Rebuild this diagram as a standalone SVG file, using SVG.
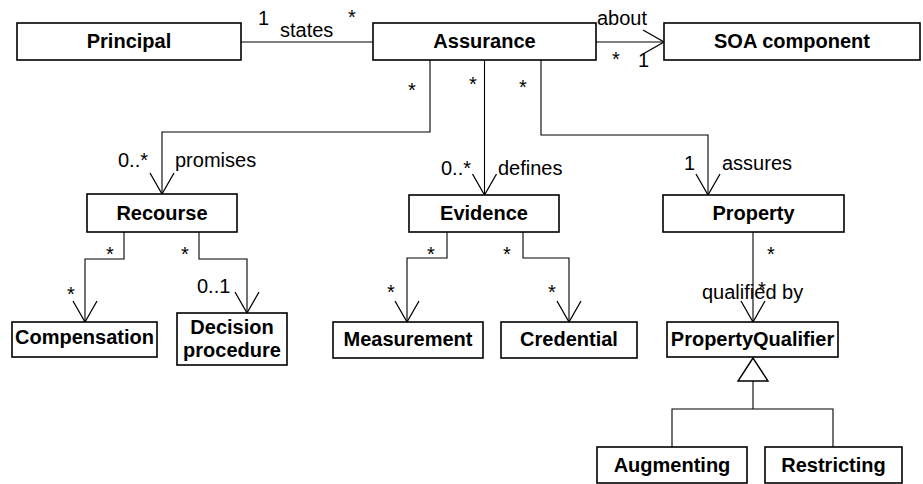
<svg xmlns="http://www.w3.org/2000/svg" width="923" height="484" viewBox="0 0 923 484">
<style>
.box{fill:#fff;stroke:#000;stroke-width:1.6}
.n{font-family:"Liberation Sans",Arial,sans-serif;font-size:20px;font-weight:bold;text-anchor:middle;fill:#000}
.l{font-family:"Liberation Sans",Arial,sans-serif;font-size:20px;fill:#000}
.c{fill:none;stroke:#000;stroke-width:1.1}
</style>
<defs>
<marker id="open" markerUnits="userSpaceOnUse" markerWidth="30" markerHeight="30" viewBox="-25 -15 30 30" refX="0" refY="0" orient="auto">
<path d="M-21,-12 L0,0 L-21,12" fill="none" stroke="#000" stroke-width="1.3"/>
</marker>
</defs>
<rect width="923" height="484" fill="#fff"/>
<g id="connectors">
<path class="c" d="M241,42 H373"/>
<path class="c" d="M596,42 H664" marker-end="url(#open)"/>
<path class="c" d="M430,60 V132 H162 V194" marker-end="url(#open)"/>
<path class="c" d="M484.5,60 V195" marker-end="url(#open)"/>
<path class="c" d="M541,60 V135 H708 V195" marker-end="url(#open)"/>
<path class="c" d="M124,232 V259 H85 V322" marker-end="url(#open)"/>
<path class="c" d="M199,232 V259 H247 V313" marker-end="url(#open)"/>
<path class="c" d="M447,232 V258 H407 V322" marker-end="url(#open)"/>
<path class="c" d="M523,232 V258 H569 V322" marker-end="url(#open)"/>
<path class="c" d="M753,232 V322" marker-end="url(#open)"/>
<path d="M753,358 L738,381 L768,381 Z" fill="#fff" stroke="#000" stroke-width="1.4"/>
<path class="c" d="M753,381 V409"/>
<path class="c" d="M672,447 V409 H833 V447"/>
<text class="l" x="258" y="25">1</text>
<text class="l" x="280" y="37">states</text>
<text class="l" x="348" y="24">*</text>
<text class="l" x="597" y="25">about</text>
<text class="l" x="612" y="66">*</text>
<text class="l" x="638" y="67">1</text>
<text class="l" x="408" y="97">*</text>
<text class="l" x="469" y="91">*</text>
<text class="l" x="519" y="94">*</text>
<text class="l" x="118" y="167">0..*</text>
<text class="l" x="175" y="167">promises</text>
<text class="l" x="441" y="175">0..*</text>
<text class="l" x="498" y="175">defines</text>
<text class="l" x="684" y="170">1</text>
<text class="l" x="722" y="170">assures</text>
<text class="l" x="106" y="261">*</text>
<text class="l" x="67" y="301">*</text>
<text class="l" x="181" y="261">*</text>
<text class="l" x="197" y="293">0..1</text>
<text class="l" x="427" y="261">*</text>
<text class="l" x="387" y="299">*</text>
<text class="l" x="503" y="261">*</text>
<text class="l" x="548" y="299">*</text>
<text class="l" x="767" y="261">*</text>
<text class="l" x="702" y="299">qualified by</text>
<text class="l" x="758" y="296">*</text>
</g>
<g id="principal"><rect class="box" x="17" y="23" width="224" height="37"/><text class="n" x="129" y="48">Principal</text></g>
<g id="assurance"><rect class="box" x="373" y="23" width="223" height="37"/><text class="n" x="484.5" y="48">Assurance</text></g>
<g id="soa"><rect class="box" x="664" y="23" width="256" height="37"/><text class="n" x="792" y="48">SOA component</text></g>
<g id="recourse"><rect class="box" x="87" y="194" width="150" height="38"/><text class="n" x="162" y="220">Recourse</text></g>
<g id="evidence"><rect class="box" x="409" y="195" width="150" height="37"/><text class="n" x="484" y="220">Evidence</text></g>
<g id="property"><rect class="box" x="663" y="195" width="181" height="37"/><text class="n" x="753.5" y="220">Property</text></g>
<g id="compensation"><rect class="box" x="12" y="322" width="145" height="35"/><text class="n" x="84.5" y="344">Compensation</text></g>
<g id="decision"><rect class="box" x="177" y="313" width="110" height="52"/><text class="n" x="232" y="334">Decision</text><text class="n" x="232" y="357">procedure</text></g>
<g id="measurement"><rect class="box" x="333" y="322" width="150" height="36"/><text class="n" x="408" y="346">Measurement</text></g>
<g id="credential"><rect class="box" x="501" y="322" width="136" height="36"/><text class="n" x="569" y="346">Credential</text></g>
<g id="propertyqualifier"><rect class="box" x="667" y="322" width="171" height="35"/><text class="n" x="752.5" y="346">PropertyQualifier</text></g>
<g id="augmenting"><rect class="box" x="597" y="447" width="150" height="36"/><text class="n" x="672" y="472">Augmenting</text></g>
<g id="restricting"><rect class="box" x="765" y="447" width="137" height="36"/><text class="n" x="833.5" y="472">Restricting</text></g>
</svg>
